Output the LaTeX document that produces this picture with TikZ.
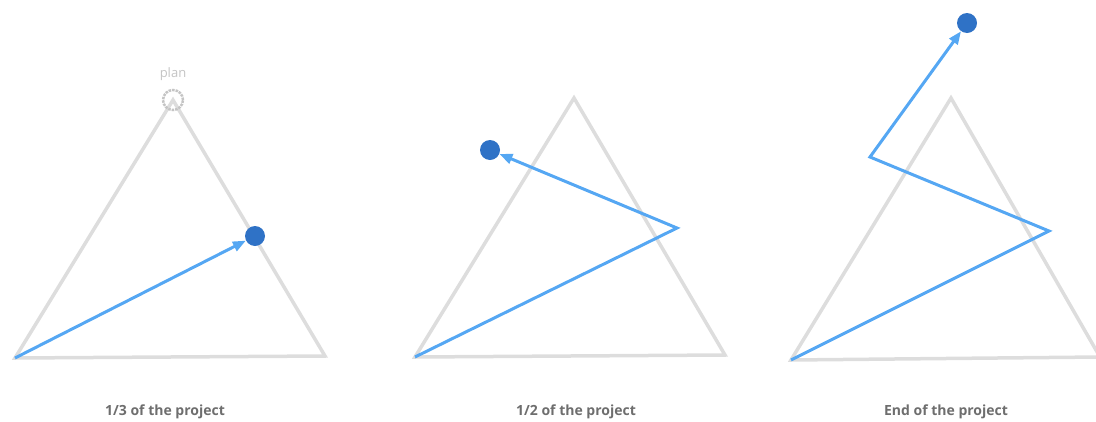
\documentclass[tikz,border=0pt]{standalone}
\usepackage{fontspec}
\setmainfont{Open Sans}
\usetikzlibrary{arrows.meta, positioning}

\definecolor{trigray}{HTML}{DDDDDD}
\definecolor{routeblue}{HTML}{55A7F3}
\definecolor{dotblue}{HTML}{2F72C6}
\definecolor{plangray}{HTML}{C4C4C4}
\definecolor{capgray}{HTML}{6E6E6E}

\begin{document}
\begin{tikzpicture}[
    x=1pt, y=-1pt,
    >={Triangle[length=13pt,width=10pt]},
    triangle/.style={draw=trigray, line width=3.5pt, line join=miter},
    route/.style={draw=routeblue, line width=3pt, line join=miter},
    goal/.style={circle, fill=dotblue, minimum size=20pt, inner sep=0pt},
    planmark/.style={circle, draw=plangray, densely dotted, line width=2.5pt, minimum size=20pt, inner sep=0pt},
    caption/.style={font=\fontsize{14}{17}\selectfont\bfseries, text=capgray},
]

\useasboundingbox (0,0) rectangle (1096,421);

%==================== 1/3 OF THE PROJECT ====================

\coordinate (a1) at (15,358);
\coordinate (b1) at (325,356);
\coordinate (c1) at (173,100);
\draw[triangle] (a1) -- (b1) -- (c1) -- cycle;

\node[planmark] (plan) at (c1) {};
\node[font=\fontsize{13}{15}\selectfont, text=plangray] (planlabel) at (173,74) {plan};

\node[goal] (goal1) at (255,236) {};
\draw[route, ->] (a1) -- (goal1);

\node[caption] (cap1) at (165,412) {1/3 of the project};

%==================== 1/2 OF THE PROJECT ====================

\coordinate (a2) at (415,357);
\coordinate (b2) at (725,355);
\coordinate (c2) at (574,98);
\draw[triangle] (a2) -- (b2) -- (c2) -- cycle;

\coordinate (turn2) at (677,228);
\node[goal] (goal2) at (490,150) {};
\draw[route, ->] (a2) -- (turn2) -- (goal2);

\node[caption] (cap2) at (576,412) {1/2 of the project};

%==================== END OF THE PROJECT ====================

\coordinate (a3) at (791,360);
\coordinate (b3) at (1100,357);
\coordinate (c3) at (951,98);
\draw[triangle] (a3) -- (b3) -- (c3) -- cycle;

\coordinate (turn3a) at (1049,231);
\coordinate (turn3b) at (870,157);
\node[goal] (goal3) at (967,23) {};
\draw[route, ->] (a3) -- (turn3a) -- (turn3b) -- (goal3);

\node[caption] (cap3) at (946,412) {End of the project};

\end{tikzpicture}
\end{document}
